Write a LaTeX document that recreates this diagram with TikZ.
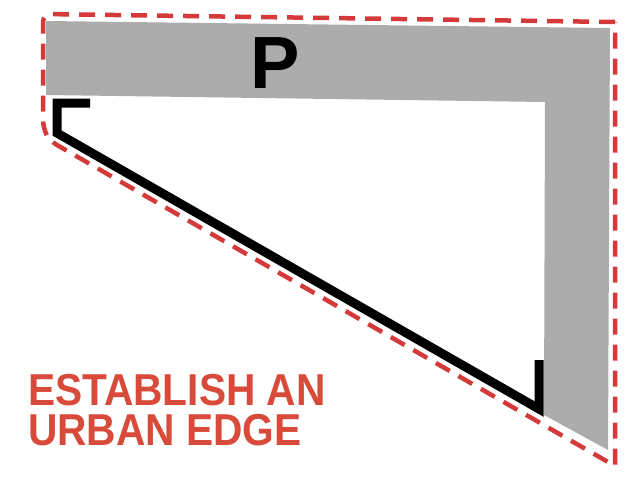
\documentclass[tikz,border=0pt]{standalone}
\usepackage{fontspec}
\setmainfont{Liberation Sans}
\usetikzlibrary{positioning,calc}
\definecolor{edgered}{RGB}{212,58,58}
\definecolor{textred}{RGB}{216,74,58}
\definecolor{blockgray}{RGB}{172,172,172}
\begin{document}
\begin{tikzpicture}[x=1pt,y=-1pt,every node/.style={inner sep=0pt, outer sep=0pt},
  edgeline/.style={draw=edgered, line width=4.5pt, dash pattern=on 16pt off 10pt},
  wallline/.style={draw=black, line width=9pt, line join=miter},
  slogan/.style={font=\bfseries\fontsize{44.7}{44.7}\selectfont, text=textred}]
\useasboundingbox (0,0) rectangle (638,477);
% gray block
\fill[blockgray] (46,21) -- (610,28) -- (608,450) -- (544,415) -- (545,102) -- (46,95) -- cycle;
% black wall
\draw[wallline] (90,103) -- (57,103) -- (57,133) -- (539,409) -- (539,360);
% red dashed boundary
\draw[edgeline] (615,22) [rounded corners=8pt] -- (43,14) -- (43,128) -- (50,141) [sharp corners] -- (615,466) -- cycle;
\node[font=\bfseries\fontsize{74}{74}\selectfont, anchor=base] (plabel) at (275,88) {P};
\node[slogan, anchor=base west] (line1) at (28,405) {\scalebox{0.91}[1]{ESTABLISH AN}};
\node[slogan, below=9pt of line1.south west, anchor=north west] (line2) {\scalebox{0.91}[1]{URBAN EDGE}};
\end{tikzpicture}
\end{document}
